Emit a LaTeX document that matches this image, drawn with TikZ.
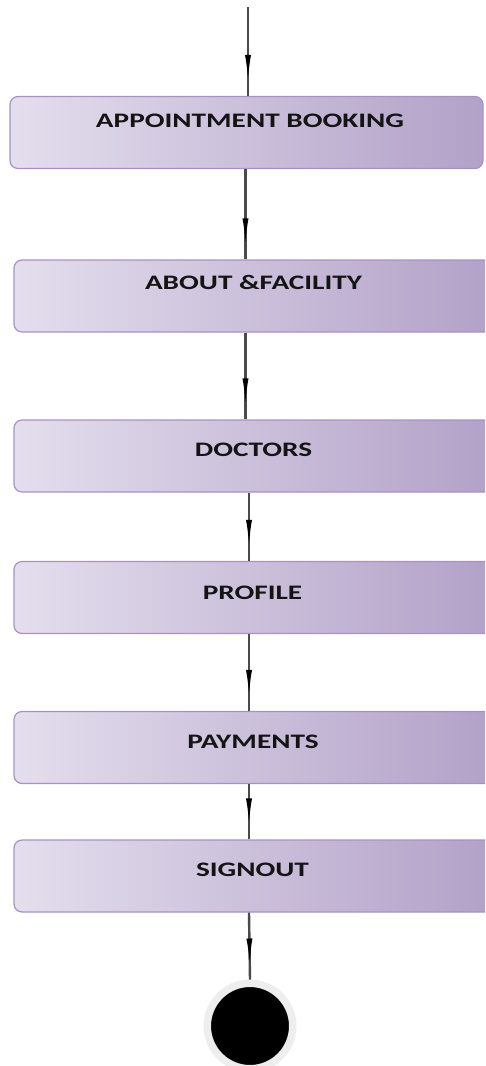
\documentclass[tikz,border=0pt]{standalone}
\usepackage{graphicx}
\usepackage{fontspec}
\setmainfont{Carlito}
\usetikzlibrary{arrows.meta,decorations.markings}

\definecolor{boxleft}{HTML}{E4DEED}
\definecolor{boxright}{HTML}{B2A1C8}
\definecolor{boxborder}{HTML}{A892C4}
\definecolor{flowgray}{HTML}{4A4A4A}
\definecolor{halo}{HTML}{EEEEEE}

\tikzset{
  menubox/.style={rectangle, rounded corners=8pt, draw=boxborder, line width=1.2pt,
    left color=boxleft, right color=boxright, minimum height=72pt, inner sep=0pt},
  menutext/.style={font=\bfseries\fontsize{20.6}{24}\selectfont, text=black!92,
    text height=13pt, text depth=0pt, inner sep=0pt},
  flow/.style={draw=flowgray, line width=2.4pt, postaction={decorate},
    decoration={markings, mark=at position -11pt with {\arrow[black]{Latex[length=30pt,width=6pt]}}}},
}
\newcommand{\stretched}[1]{\scalebox{1.42}[1]{#1}}

\begin{document}
\begin{tikzpicture}[x=1pt,y=-1pt]
    \useasboundingbox (0,0) rectangle (485,1066);
    \clip (0,0) rectangle (485,1066);

    % Menu boxes
    \node[menubox, minimum width=473pt] (booking) at (246.5,132.5) {};
    \node[menubox, minimum width=481pt] (about) at (254.5,296) {};
    \node[menubox, minimum width=481pt] (doctors) at (254.5,456) {};
    \node[menubox, minimum width=481pt] (profile) at (254.5,597.5) {};
    \node[menubox, minimum width=481pt] (payments) at (254.5,747.5) {};
    \node[menubox, minimum width=481pt] (signout) at (254.5,876) {};

    % Box texts
    \node[menutext] (booking text) at (250,120.5) {\stretched{APPOINTMENT BOOKING}};
    \node[menutext] (about text) at (253.5,282.5) {\stretched{ABOUT \&FACILITY}};
    \node[menutext] (doctors text) at (253.5,450) {\stretched{DOCTORS}};
    \node[menutext] (profile text) at (252.5,592.5) {\stretched{PROFILE}};
    \node[menutext] (payments text) at (253,741.5) {\stretched{PAYMENTS}};
    \node[menutext] (signout text) at (252.5,869.5) {\stretched{SIGNOUT}};

    % Final state
    \node[circle, fill=black, draw=halo, line width=7.5pt, minimum size=85.5pt, inner sep=0pt] (finish) at (250,1026) {};

    % Flow
    \coordinate (start) at (248,7);
    \coordinate (upper axis) at (245.5,0);
    \coordinate (axis) at (249,0);
    \draw[flow] (start) -- (start |- booking.north);
    \draw[flow] (booking.south -| upper axis) -- (about.north -| upper axis);
    \draw[flow] (about.south -| upper axis) -- (doctors.north -| upper axis);
    \draw[flow] (doctors.south -| axis) -- (profile.north -| axis);
    \draw[flow] (profile.south -| axis) -- (payments.north -| axis);
    \draw[flow] (payments.south -| axis) -- (signout.north -| axis);
    \draw[flow] (signout.south -| axis) -- (finish.north);
\end{tikzpicture}
\end{document}
